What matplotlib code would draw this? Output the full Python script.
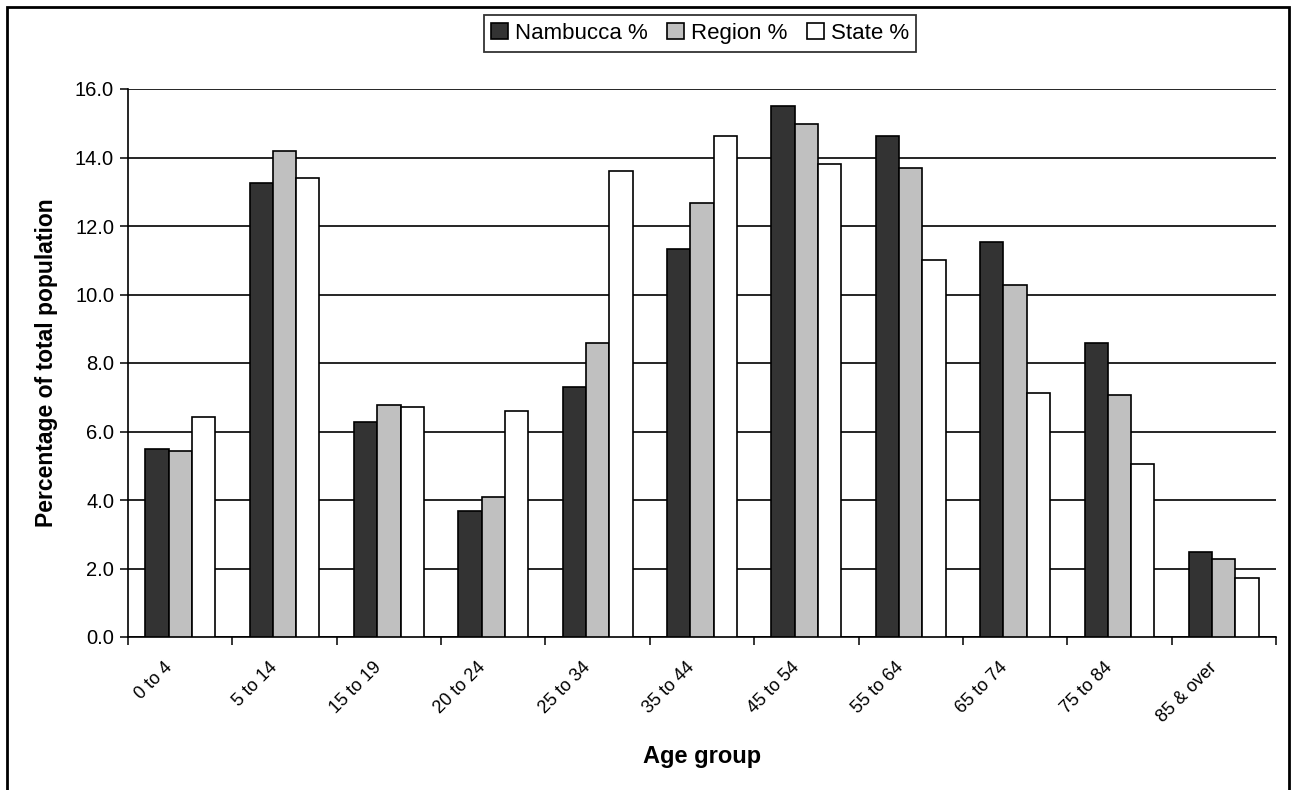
import numpy as np
import matplotlib
matplotlib.use('Agg')
import matplotlib.pyplot as plt
import matplotlib.transforms as mtransforms
from matplotlib.patches import Rectangle

plt.rcParams['font.family'] = ['Liberation Sans', 'DejaVu Sans']

# data
age_groups = ['0 to 4', '5 to 14', '15 to 19', '20 to 24', '25 to 34', '35 to 44',
              '45 to 54', '55 to 64', '65 to 74', '75 to 84', '85 & over']
nambucca = [5.48, 13.26, 6.29, 3.68, 7.30, 11.33, 15.50, 14.63, 11.53, 8.58, 2.49]
region = [5.44, 14.18, 6.77, 4.09, 8.58, 12.67, 14.98, 13.70, 10.28, 7.07, 2.27]
state = [6.41, 13.40, 6.72, 6.60, 13.60, 14.63, 13.80, 11.00, 7.12, 5.05, 1.73]
series_names = ['Nambucca %', 'Region %', 'State %']

fig = plt.figure(figsize=(12.95, 7.9), dpi=100)
ax = fig.add_axes([128/1295, 153/790, 1148/1295, 548/790])

x = np.arange(len(age_groups))
w = 0.223
cols = ['#333333', '#c0c0c0', '#ffffff']
for i, (vals, c, name) in enumerate(zip([nambucca, region, state], cols, series_names)):
    ax.bar(x + (i - 1)*w, vals, width=w, color=c, edgecolor='black',
           linewidth=1.2, label=name, zorder=3)

ax.set_xlim(-0.5, len(age_groups) - 0.5)
ax.set_ylim(0, 16)
ax.set_yticks(np.arange(0, 16.1, 2))
ax.set_yticklabels(['%.1f' % v for v in np.arange(0, 16.1, 2)], fontsize=14.5)
ax.yaxis.grid(True, color='black', linewidth=1.2, zorder=0)
ax.set_axisbelow(True)

# category labels at centres, tick marks at boundaries
ax.set_xticks(x)
ax.set_xticklabels(age_groups, rotation=45, ha='right', rotation_mode='anchor',
                   fontsize=13)
ax.tick_params(axis='x', which='major', length=0, pad=16)
shift = mtransforms.ScaledTranslation(-16/100, 0, fig.dpi_scale_trans)
for lab in ax.get_xticklabels():
    lab.set_transform(lab.get_transform() + shift)
ax.set_xticks(np.arange(-0.5, len(age_groups)), minor=True)
ax.tick_params(axis='x', which='minor', length=6, width=1.1, direction='out')
ax.tick_params(axis='y', length=6, width=1.1, direction='out', pad=4)

for s in ['top', 'right']:
    ax.spines[s].set_visible(False)
for s in ['left', 'bottom']:
    ax.spines[s].set_linewidth(1.2)

ax.set_ylabel('Percentage of total population', fontsize=16.5, fontweight='bold', labelpad=12)
ax.set_xlabel('Age group', fontsize=17, fontweight='bold', labelpad=14)

leg = fig.legend(loc='center', bbox_to_anchor=(700/1295, 1 - 33.5/790), ncol=3,
                 fontsize=16, frameon=True, fancybox=False, edgecolor='black',
                 handlelength=0.75, handleheight=0.75, handletextpad=0.3,
                 columnspacing=0.9, borderpad=0.35, borderaxespad=0)
leg.get_frame().set_linewidth(1.3)

# outer chart border
fig.patches.append(Rectangle((7/1295, -0.01), 1282/1295, 1.01 - 7/790,
                             transform=fig.transFigure, fill=False,
                             edgecolor='black', linewidth=2))

plt.savefig('out.png', dpi=100)
